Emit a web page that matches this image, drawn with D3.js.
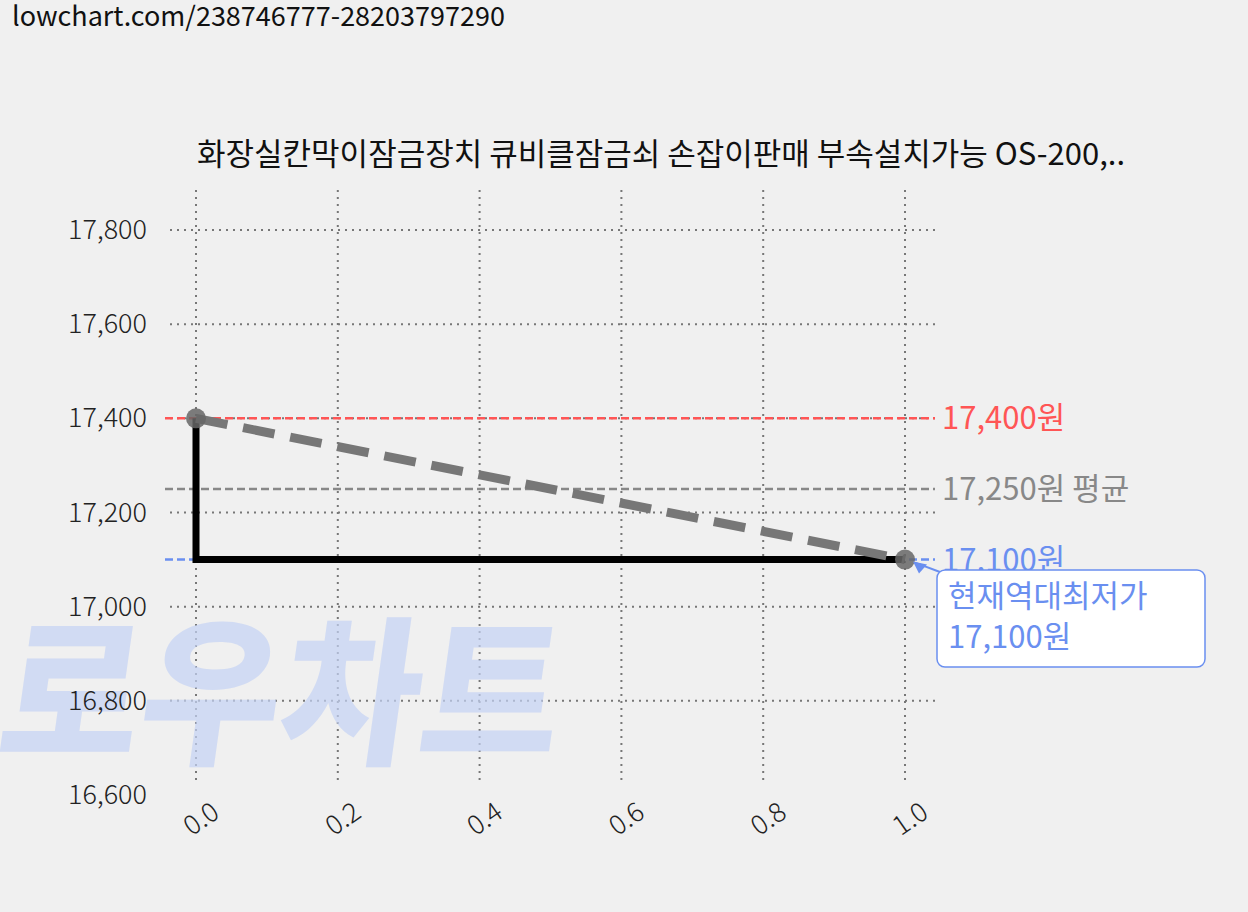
<!DOCTYPE html><html><head><meta charset="utf-8">
<script src="https://cdn.jsdelivr.net/npm/d3@7"></script>
<style>body{margin:0;background:#f0f0f0}svg{font-family:"Noto Sans CJK KR","Noto Sans",sans-serif}</style></head><body>
<svg id="c" width="1248" height="912"></svg>
<script>
const xs=[0,1];
const prices=[17400,17100];
const yTicks=[16600,16800,17000,17200,17400,17600,17800];
const xTicks=[0,0.2,0.4,0.6,0.8,1.0];
const maxP=17400, avgP=17250, minP=17100;
const title="화장실칸막이잠금장치 큐비클잠금쇠 손잡이판매 부속설치가능 OS-200,..";
const url="lowchart.com/238746777-28203797290";

const svg=d3.select("#c");
const x=d3.scaleLinear().domain([0,1]).range([196,905]);
const y=d3.scaleLinear().domain([16600,17800]).range([795,230]);
svg.append("text").attr("x",12).attr("y",26).attr("font-size",27).attr("fill","#111").text(url);
svg.append("text").attr("x",1125).attr("y",165).attr("text-anchor","end").attr("font-size",31).attr("fill","#111").text(title);
yTicks.slice(1).forEach(v=>svg.append("line").attr("x1",170).attr("x2",935).attr("y1",y(v)).attr("y2",y(v)).attr("stroke","#777").attr("stroke-width",2).attr("stroke-dasharray","2,5"));
xTicks.forEach(v=>svg.append("line").attr("x1",x(v)).attr("x2",x(v)).attr("y1",190).attr("y2",785).attr("stroke","#777").attr("stroke-width",2).attr("stroke-dasharray","2,5"));
// watermark
svg.append("text").attr("x",0).attr("y",752).attr("font-size",160).attr("font-weight",900).attr("fill","#c5d3f5").attr("opacity",0.7).attr("transform","skewX(-8) translate(100,0)").attr("textLength",560).attr("lengthAdjust","spacingAndGlyphs").text("로우차트");
const ya=svg.append("g").attr("transform","translate(150,0)").call(d3.axisLeft(y).tickValues(yTicks).tickFormat(d3.format(",")).tickSize(0));
ya.select(".domain").remove();
ya.selectAll("text").attr("font-size",27).attr("fill","#222").attr("font-family","Noto Sans CJK KR").attr("font-weight",300);
const xa=svg.append("g").attr("transform","translate(0,800)").call(d3.axisBottom(x).tickValues(xTicks).tickFormat(d3.format(".1f")).tickSize(0));
xa.select(".domain").remove();
xa.selectAll("text").attr("font-size",27).attr("fill","#222").attr("font-family","Noto Sans CJK KR").attr("font-weight",300).attr("text-anchor","end").attr("transform","rotate(-35)").attr("dx","0.4em").attr("dy","0.9em");
[[maxP,"#f55",maxP.toLocaleString()+"원"],[avgP,"#888",avgP.toLocaleString()+"원 평균"],[minP,"#6a8ff0",minP.toLocaleString()+"원"]].forEach(([v,c,t])=>{
 svg.append("line").attr("x1",165).attr("x2",935).attr("y1",y(v)).attr("y2",y(v)).attr("stroke",c).attr("stroke-width",2.5).attr("stroke-dasharray","8,4");
 svg.append("text").attr("x",942).attr("y",y(v)+11).attr("font-size",31).attr("fill",c).text(t);
});
svg.append("path").attr("d",`M${x(xs[0])},${y(prices[0])}V${y(prices[1])}H${x(xs[1])}`).attr("fill","none").attr("stroke","#000").attr("stroke-width",7);
svg.append("path").datum(xs.map((d,i)=>[d,prices[i]])).attr("d",d3.line().x(d=>x(d[0])).y(d=>y(d[1]))).attr("stroke","#777").attr("stroke-width",9).attr("stroke-dasharray","32,16").attr("fill","none");
xs.forEach((d,i)=>svg.append("circle").attr("cx",x(d)).attr("cy",y(prices[i])).attr("r",10).attr("fill","#666").attr("opacity",0.85));
svg.append("line").attr("x1",940).attr("y1",572).attr("x2",915).attr("y2",y(minP)+3).attr("stroke","#6a8ff0").attr("stroke-width",2);
svg.append("path").attr("d",`M${x(1)+8},${y(minP)+2}l14,3l-8,9z`).attr("fill","#6a8ff0");
svg.append("rect").attr("x",937).attr("y",570).attr("width",268).attr("height",97).attr("rx",8).attr("fill","#fff").attr("stroke","#6a8ff0").attr("stroke-width",1.5);
svg.append("text").attr("x",948).attr("y",607).attr("font-size",31).attr("fill","#6a8ff0").text("현재역대최저가");
svg.append("text").attr("x",948).attr("y",648).attr("font-size",31).attr("fill","#6a8ff0").text(minP.toLocaleString()+"원");
</script></body></html>
